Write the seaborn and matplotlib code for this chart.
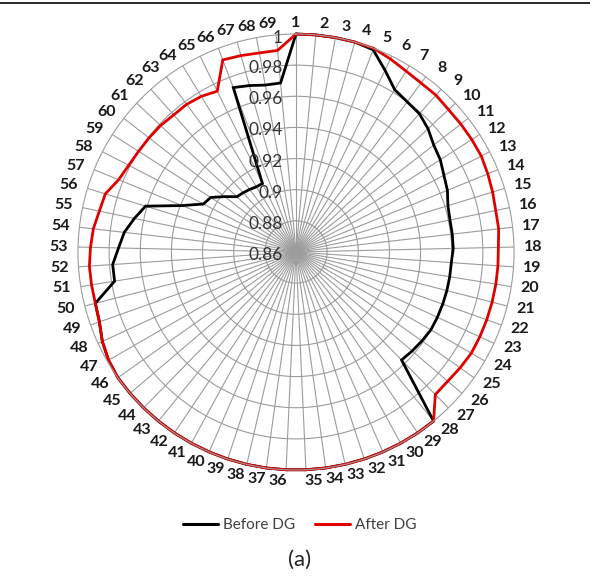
import numpy as np
import pandas as pd
import matplotlib
matplotlib.use("Agg")
import matplotlib.pyplot as plt
import matplotlib.transforms as mtransforms
from matplotlib.lines import Line2D
import seaborn as sns

# Bus numbers and voltage profiles (p.u.)
buses = list(range(1, 70))
before_dg = [1.000, 1.000, 1.000, 1.000, 0.999, 0.990, 0.982, 0.980, 0.979, 0.976,
             0.972, 0.970, 0.967, 0.965, 0.962, 0.961, 0.961, 0.961, 0.960, 0.960,
             0.960, 0.960, 0.960, 0.960, 0.959, 0.958, 0.957, 1.000, 1.000, 1.000,
             1.000, 1.000, 1.000, 1.000, 1.000, 1.000, 1.000, 1.000, 1.000, 1.000,
             1.000, 1.000, 1.000, 1.000, 1.000, 1.000, 0.999, 0.997, 0.994, 0.993,
             0.978, 0.978, 0.974, 0.971, 0.966, 0.961, 0.939, 0.927, 0.925, 0.918,
             0.912, 0.911, 0.910, 0.909, 0.909, 0.973, 0.971, 0.969, 0.969]
after_dg = [1.000, 1.000, 1.000, 1.000, 1.000, 0.998, 0.996, 0.995, 0.995, 0.994,
            0.994, 0.994, 0.994, 0.993, 0.992, 0.991, 0.991, 0.990, 0.990, 0.990,
            0.990, 0.990, 0.990, 0.990, 0.989, 0.988, 0.988, 1.000, 1.000, 1.000,
            1.000, 1.000, 1.000, 1.000, 1.000, 1.000, 1.000, 1.000, 1.000, 1.000,
            1.000, 1.000, 1.000, 1.000, 1.000, 1.000, 0.999, 0.997, 0.994, 0.993,
            0.993, 0.993, 0.992, 0.991, 0.989, 0.988, 0.983, 0.981, 0.980, 0.9795,
            0.979, 0.978, 0.978, 0.977, 0.975, 0.992, 0.991, 0.990, 0.990]
series_names = ["Before DG", "After DG"]
radial_ticks = [0.86, 0.88, 0.90, 0.92, 0.94, 0.96, 0.98, 1.00]
radial_labels = ["0.86", "0.88", "0.9", "0.92", "0.94", "0.96", "0.98", "1"]

sns.set_theme(style="white")
plt.rcParams["font.family"] = ["Lato", "DejaVu Sans"]

n = len(buses)
angles = 2 * np.pi * (np.array(buses) - 1) / n

# closed loops: repeat the first bus at 2*pi
rows = []
for name, vals in zip(series_names, [before_dg, after_dg]):
    for a, v in zip(angles, vals):
        rows.append((name, a, v))
    rows.append((name, 2 * np.pi, vals[0]))
df = pd.DataFrame(rows, columns=["series", "theta", "voltage"])

fig = plt.figure(figsize=(5.90, 5.78), dpi=100)
W, H = 590, 578
cx, cy, R = 296, 252, 218
ax = fig.add_axes([(cx - R) / W, (H - cy - R) / H, 2 * R / W, 2 * R / H],
                  projection="polar")
ax.set_theta_offset(np.pi / 2)
ax.set_theta_direction(-1)

grid_col = "#9c9c9c"
sns.lineplot(data=df, x="theta", y="voltage", hue="series",
             hue_order=series_names, palette=["#000000", "#e00000"],
             linewidth=2.0, ax=ax, legend=False, sort=True, estimator=None)
for ln in ax.get_lines():
    ln.set_clip_on(False)
    ln.set_solid_joinstyle("miter")

ax.set_ylim(0.86, 1.0)
ax.set_xticks(angles)
ax.set_xticklabels([])
ax.set_yticks(radial_ticks[1:-1])
ax.set_yticklabels([])
ax.set_xlabel("")
ax.set_ylabel("")
ax.grid(True, color=grid_col, linewidth=0.8)
ax.spines["polar"].set_color(grid_col)
ax.spines["polar"].set_linewidth(0.8)
ax.tick_params(pad=0)

# radial value labels along the first spoke
off = mtransforms.ScaledTranslation(-13 / 100, -3 / 100, fig.dpi_scale_trans)
off_top = mtransforms.ScaledTranslation(-13 / 100, -4 / 100, fig.dpi_scale_trans)
for v, lab in zip(radial_ticks, radial_labels):
    ax.text(0, v, lab, transform=ax.transData + (off_top if v == 1.0 else off),
            ha="right", va="center", fontsize=12.5, color="#333333")

# bus number labels around the rim, spread sideways near top and bottom
for b, a in zip(buses, angles):
    s, c = np.sin(a), np.cos(a)
    x = 0.5 + (237 * s + 7 * np.sign(s) * c * c) / (2 * R)
    y = 0.5 + 229 * c / (2 * R)
    ax.text(x, y, str(b), transform=ax.transAxes, ha="center", va="center",
            fontsize=11.5, fontweight="bold", color="#1a1a1a")

handles = [Line2D([], [], color="#000000", lw=2.2),
           Line2D([], [], color="#e00000", lw=2.2)]
fig.legend(handles, series_names, loc="center", bbox_to_anchor=(0.508, 1 - 525 / H),
           ncol=2, frameon=False, fontsize=11, handlelength=2.3,
           handletextpad=0.3, columnspacing=1.3, labelcolor="#404040")

fig.text(0.508, 1 - 560 / H, "(a)", ha="center", va="center", fontsize=16,
         color="#222222")

fig.add_artist(Line2D([0, 1], [1 - 3 / H, 1 - 3 / H], color="black", lw=1.2,
                      transform=fig.transFigure))

fig.savefig("out.png", dpi=100)
